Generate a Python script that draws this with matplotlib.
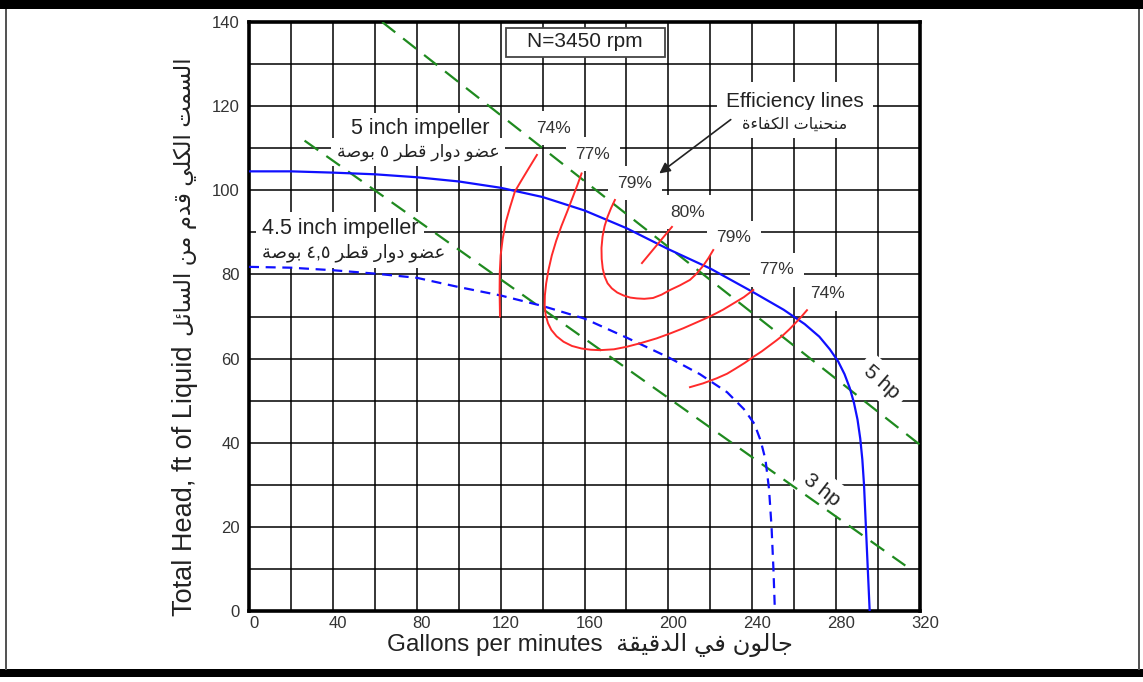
import re
import matplotlib
matplotlib.use("Agg")
import matplotlib.pyplot as plt
import matplotlib.transforms as mtransforms
from matplotlib.patches import Rectangle

# ---------------- data ----------------
imp5_q = [0, 20, 40, 60, 80, 100, 120, 140, 160, 180, 200, 220, 240, 255, 265,
          272, 277, 281, 284, 286.5, 288.5, 290.2, 291.5, 292.5, 293.3, 294.2, 295.1, 296]
imp5_h = [104.5, 104.5, 104.2, 103.8, 103.1, 102.1, 100.6, 98.4, 95.2, 91.0, 86.0,
          81.4, 75.9, 71.6, 68.2, 65.2, 62.2, 59.3, 56.3, 53.0, 49.5, 45.5, 41.0,
          36.0, 30.0, 20.0, 10.0, 0]

imp45_q = [0, 20, 40, 60, 80, 100, 120, 140, 160, 180, 200, 215, 228, 236, 241,
           244, 246.3, 248, 249.2, 250.1, 250.8]
imp45_h = [81.8, 81.6, 81.0, 80.2, 79.2, 77.0, 75.0, 72.5, 69.5, 65.0, 60.3, 56.3,
           52.0, 48.0, 44.5, 40.5, 36.0, 29.0, 20.0, 10.0, 0]

hp5_q = [63.5, 320]
hp5_h = [140, 39.5]
hp3_q = [26.5, 313]
hp3_h = [111.8, 10.8]

eff74a_q = [137.3, 133.5, 129.5, 126.8, 124.5, 122.5, 121.0, 120.0, 119.6, 119.5, 119.7]
eff74a_h = [108.4, 105.3, 102.0, 99.7, 96.0, 92.5, 88.5, 84.5, 80.5, 76.0, 70.0]

eff77_q = [158.6, 156.8, 154.5, 151.8, 149.0, 146.5, 144.4, 142.8, 141.7, 141.1, 141.0,
           141.5, 142.6, 144.2, 146.7, 150.0, 154.0, 158.5, 163.0, 167.4, 174.0,
           180.1, 187.0, 194.4, 201.0, 207.1, 213.5, 219.8, 226.0, 231.0, 236.0, 240.5]
eff77_h = [104.0, 101.5, 98.5, 95.0, 91.5, 88.0, 84.5, 81.0, 77.8, 75.0, 72.5,
           70.3, 68.4, 66.8, 65.3, 64.0, 63.0, 62.4, 62.1, 62.0, 62.2, 62.8, 63.7,
           64.8, 66.0, 67.2, 68.6, 70.0, 71.6, 73.1, 74.6, 76.3]

eff79_q = [174.5, 172.7, 171.0, 169.6, 168.6, 168.1, 168.2, 168.7, 169.6, 171.0,
           173.0, 175.6, 178.6, 181.8, 185.0, 188.5, 192.7, 196.8, 200.8, 205.5,
           210.3, 213.5, 216.5, 219.0, 221.4]
eff79_h = [97.7, 95.8, 93.7, 91.5, 89.0, 86.3, 83.7, 81.4, 79.5, 77.9, 76.7, 75.7,
           75.0, 74.5, 74.3, 74.2, 74.4, 75.2, 76.3, 77.4, 78.7, 80.2, 82.0, 83.8, 85.8]

eff80_q = [187.4, 201.7]
eff80_h = [82.7, 91.3]

eff74b_q = [210.3, 216.5, 223.0, 228.0, 232.0, 236.5, 240.5, 244.5, 248.0, 251.5,
            254.8, 257.8, 260.5, 263.5, 266.1]
eff74b_h = [53.2, 54.1, 55.3, 56.4, 57.6, 59.0, 60.4, 61.7, 63.0, 64.3, 65.6,
            67.0, 68.4, 70.0, 71.5]

eff_labels = ["74%", "77%", "79%", "80%", "79%", "77%", "74%"]
eff_label_q = [145.0, 164.0, 184.1, 209.3, 231.3, 251.8, 276.1]
eff_label_h = [114.8, 108.6, 101.7, 94.8, 88.7, 81.1, 75.4]

x_ticks = [0, 40, 80, 120, 160, 200, 240, 280, 320]
y_ticks = [0, 20, 40, 60, 80, 100, 120, 140]
x_grid = list(range(0, 321, 20))
y_grid = list(range(0, 141, 10))

# ---------------- Arabic shaping (presentation forms, visual order) ----------------
_AR_LETTERS = "ءآأؤإئابةتثجحخدذرزسشصضطظعغفقكلمنهوىي"
_AR_NFORMS = [1, 2, 2, 2, 2, 4, 2, 4, 2, 4, 4, 4, 4, 4, 2, 2, 2, 2, 4, 4, 4, 4, 4,
              4, 4, 4, 4, 4, 4, 4, 4, 4, 4, 2, 2, 4]
_AR_TABLE = {}
_cp = 0xFE80
for _ch, _n in zip(_AR_LETTERS, _AR_NFORMS):
    _AR_TABLE[_ch] = [chr(_cp + k) for k in range(_n)]
    _cp += _n
_LAM_ALEF = {"آ": 0xFEF5, "أ": 0xFEF7, "إ": 0xFEF9, "ا": 0xFEFB}


def shape_ar(text):
    chars = list(text)
    out = []
    prev_joins = False
    i = 0
    n = len(chars)
    while i < n:
        c = chars[i]
        if c == "ل" and i + 1 < n and chars[i + 1] in _LAM_ALEF:
            out.append(chr(_LAM_ALEF[chars[i + 1]] + (1 if prev_joins else 0)))
            prev_joins = False
            i += 2
            continue
        if c in _AR_TABLE:
            forms = _AR_TABLE[c]
            nxt = chars[i + 1] if i + 1 < n else ""
            join_next = len(forms) == 4 and nxt in _AR_TABLE and nxt != "ء"
            if prev_joins and join_next:
                f = forms[3]
            elif prev_joins:
                f = forms[1] if len(forms) > 1 else forms[0]
            elif join_next:
                f = forms[2]
            else:
                f = forms[0]
            out.append(f)
            prev_joins = join_next
        else:
            out.append(c)
            prev_joins = False
        i += 1
    s = "".join(out)
    runs = re.findall(r"[0-9\u0660-\u0669]+(?:[.,\u066B][0-9\u0660-\u0669]+)*|[^0-9\u0660-\u0669]+", s)
    return "".join(r if re.match(r"[0-9\u0660-\u0669]", r) else r[::-1] for r in reversed(runs))


# ---------------- figure ----------------
FAM = ["Liberation Sans", "DejaVu Sans"]
plt.rcParams["font.family"] = FAM
TXT = "#222222"

W, H = 1143, 682
fig = plt.figure(figsize=(W / 100, H / 100), dpi=100)
ax = fig.add_axes([249 / W, 1 - 611 / H, (920 - 249) / W, (611 - 22) / H])

# outer page frame
fig.add_artist(Rectangle((0, 1 - 9 / H), 1, 9 / H, transform=fig.transFigure,
                         fc="black", ec="none"))
fig.add_artist(Rectangle((0, 1 - 677 / H), 1, 8 / H, transform=fig.transFigure,
                         fc="black", ec="none"))
fig.add_artist(Rectangle((5 / W, 1 - 670 / H), 1.6 / W, 661 / H, transform=fig.transFigure,
                         fc="#555555", ec="none"))
fig.add_artist(Rectangle((1138 / W, 1 - 670 / H), 1.6 / W, 661 / H, transform=fig.transFigure,
                         fc="#555555", ec="none"))

ax.set_xlim(0, 320)
ax.set_ylim(0, 140)
ax.set_xticks(x_ticks)
ax.set_yticks(y_ticks)
ax.set_xticks(x_grid, minor=True)
ax.set_yticks(y_grid, minor=True)
ax.set_axisbelow(True)
ax.grid(which="both", color="black", lw=1.1)
ax.tick_params(which="both", length=0)
ax.tick_params(axis="x", labelsize=12, labelcolor="#333333", pad=3.5)
ax.tick_params(axis="y", labelsize=12, labelcolor="#333333", pad=6.5)
for sp in ax.spines.values():
    sp.set_linewidth(2.6)
offset = mtransforms.ScaledTranslation(5 / 100, 0, fig.dpi_scale_trans)
for t in ax.xaxis.get_major_ticks():
    t.label1.set_transform(t.label1.get_transform() + offset)

# power lines
green = "#1f8a1f"
ax.plot(hp5_q, hp5_h, color=green, lw=1.6, ls=(0, (7.5, 4.5)), zorder=3)
ax.plot(hp3_q, hp3_h, color=green, lw=1.6, ls=(0, (7.5, 4.5)), zorder=3)

# impeller curves
blue = "#1010ff"
ax.plot(imp5_q, imp5_h, color=blue, lw=1.6, zorder=4, solid_joinstyle="round")
ax.plot(imp45_q, imp45_h, color=blue, lw=1.6, ls=(0, (4.5, 3)), zorder=4)

# efficiency curves
red = "#ff2a2a"
for q, h in [(eff74a_q, eff74a_h), (eff77_q, eff77_h), (eff79_q, eff79_h),
             (eff80_q, eff80_h), (eff74b_q, eff74b_h)]:
    ax.plot(q, h, color=red, lw=1.4, zorder=5, solid_joinstyle="round")

box = dict(boxstyle="square,pad=0.55", fc="white", ec="none")
for lab, q, h in zip(eff_labels, eff_label_q, eff_label_h):
    ax.text(q, h, lab, fontsize=12.5, color="#333333", ha="center", va="center",
            bbox=box, zorder=2)

# speed box
ax.add_patch(Rectangle(((506 - 249) / 671, (611 - 57) / 589), 159 / 671, 29 / 589,
                       transform=ax.transAxes, fc="white", ec="#444444", lw=1.3, zorder=2))
ax.text(160.2, 135.4, "N=3450 rpm", fontsize=15, color=TXT, ha="center", va="center",
        zorder=2.5)

ax.text(260.4, 121.2, "Efficiency lines", fontsize=15, color=TXT, ha="center", va="center",
        bbox=dict(boxstyle="square,pad=0.45", fc="white", ec="none"), zorder=2)
ax.text(260.4, 115.8, shape_ar("منحنيات الكفاءة"), fontsize=11.5, color=TXT,
        ha="center", va="center", bbox=dict(boxstyle="square,pad=0.4", fc="white", ec="none"),
        zorder=2)
ax.annotate("", xy=(194.6, 103.6), xytext=(230.8, 117.2),
            arrowprops=dict(arrowstyle="-|>", color="#222222", lw=1.2, mutation_scale=16),
            zorder=6)

ax.text(81.5, 114.6, "5 inch impeller", fontsize=15.5, color=TXT, ha="center", va="center",
        bbox=dict(boxstyle="square,pad=0.25", fc="white", ec="none"), zorder=2)
ax.text(80.6, 109.1, shape_ar("عضو دوار قطر ٥ بوصة"), fontsize=12.5, color=TXT,
        ha="center", va="center", bbox=dict(boxstyle="square,pad=0.3", fc="white", ec="none"),
        zorder=2)
ax.text(43.4, 91.0, "4.5 inch impeller", fontsize=15.5, color=TXT, ha="center", va="center",
        bbox=dict(boxstyle="square,pad=0.25", fc="white", ec="none"), zorder=2)
ax.text(50.1, 85.1, shape_ar("عضو دوار قطر ٤,٥ بوصة"), fontsize=13, color=TXT,
        ha="center", va="center", bbox=dict(boxstyle="square,pad=0.3", fc="white", ec="none"),
        zorder=2)

ax.text(301.9, 54.4, "5 hp", fontsize=15, color=TXT, ha="center", va="center",
        rotation=-41, rotation_mode="anchor",
        bbox=dict(boxstyle="square,pad=0.35", fc="white", ec="none"), zorder=2)
ax.text(273.2, 28.8, "3 hp", fontsize=15, color=TXT, ha="center", va="center",
        rotation=-38, rotation_mode="anchor",
        bbox=dict(boxstyle="square,pad=0.35", fc="white", ec="none"), zorder=2)

# axis labels
ax.set_xlabel("Gallons per minutes  " + shape_ar("جالون في الدقيقة"), fontsize=17.5,
              color=TXT, family=FAM)
ax.xaxis.set_label_coords(0.508, -0.038)
ax.set_ylabel("Total Head, ft of Liquid", fontsize=19.5, color=TXT, va="center")
ax.yaxis.set_label_coords(-0.0955, (611 - 481) / 589)
ax.text(-0.0955, (611 - 197) / 589, shape_ar("السمت الكلي قدم من السائل"),
        transform=ax.transAxes, rotation=90, fontsize=16.5, color=TXT,
        ha="center", va="center")

fig.savefig("out.png", dpi=100, facecolor="white")
